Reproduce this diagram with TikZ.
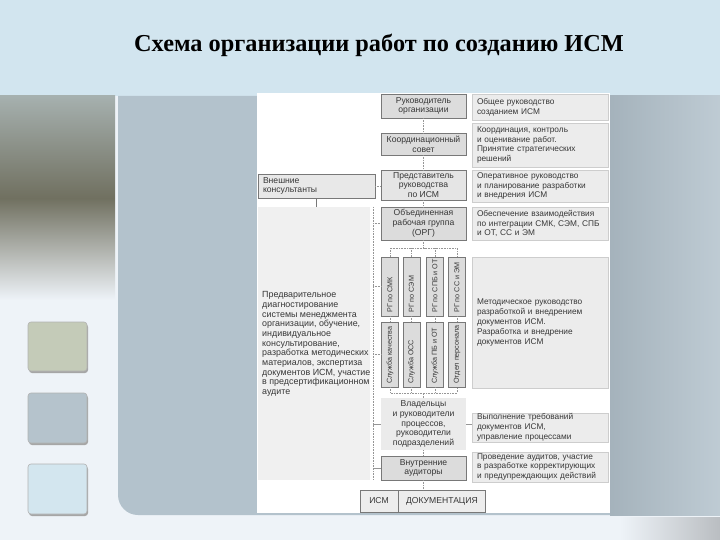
\documentclass[tikz,border=0pt]{standalone}
\usepackage{fontspec}
\setmainfont{Liberation Sans}
\newfontfamily\titlefont{Liberation Serif}
\usetikzlibrary{positioning}

\definecolor{skyband}{RGB}{210,229,239}
\definecolor{paleback}{RGB}{238,243,248}
\definecolor{panelgray}{RGB}{179,194,204}
\definecolor{boxfill}{RGB}{220,220,220}
\definecolor{boxline}{RGB}{120,120,120}
\definecolor{notefill}{RGB}{236,236,236}
\definecolor{noteline}{RGB}{205,205,205}
\definecolor{ink}{RGB}{55,55,55}
\definecolor{connline}{RGB}{150,150,150}
\definecolor{photo}{RGB}{112,112,96}

\newcommand\diag{\fontsize{8.6}{9.8}\selectfont}
\newcommand\diagnote{\fontsize{8.3}{9.8}\selectfont}
\newcommand\diagsmall{\fontsize{7.2}{8}\selectfont}

\tikzset{
  box/.style={draw=boxline, fill=boxfill, minimum width=85pt, inner sep=1pt,
    align=center, font=\diag, text=ink},
  note/.style={fill=notefill, draw=noteline, text width=126pt, inner xsep=5pt,
    inner ysep=1pt, align=left, font=\diagnote, text=ink},
  rgbox/.style={draw=boxline, fill=boxfill, minimum width=17pt, inner sep=0pt},
  rgtext/.style={rotate=90, anchor=west, inner sep=0pt, font=\diagsmall, text=ink},
  conn/.style={draw=connline, densely dotted, line width=0.6pt},
  tile/.style={rounded corners=3pt, draw=black!30, line width=0.6pt}
}

\begin{document}
\begin{tikzpicture}[x=1pt,y=-1pt]
	\useasboundingbox (0,0) rectangle (720,540);

	% Slide background
	\fill[paleback] (0,0) rectangle (720,540);
	\fill[skyband] (0,0) rectangle (720,96);
	\shade[top color=photo!45!skyband, bottom color=paleback, middle color=photo]
		(0,96) rectangle (115,300);
	\fill[panelgray, rounded corners=20pt] (118,96) -- (118,515) -- (720,515) [sharp corners] -- (720,96) -- cycle;
	\shade[left color=panelgray!92!black, right color=panelgray!85!white] (610,96) rectangle (720,515);
	\shade[left color=paleback, right color=black!22!paleback] (620,517) rectangle (720,540);

	% Tiles
	\fill[black!35] (29,324) [rounded corners=3pt] rectangle (88,373);
	\fill[tile, fill={rgb,255:red,196;green,203;blue,184}] (28,322) rectangle (87,371);
	\fill[black!35] (29,395) [rounded corners=3pt] rectangle (88,445);
	\fill[tile, fill={rgb,255:red,181;green,195;blue,204}] (28,393) rectangle (87,443);
	\fill[black!35] (29,466) [rounded corners=3pt] rectangle (88,516);
	\fill[tile, fill={rgb,255:red,211;green,230;blue,239}] (28,464) rectangle (87,514);

	% Title
	\node[anchor=base, inner sep=0pt] (title) at (379,52) {\titlefont\bfseries\fontsize{24.3}{28}\selectfont Схема организации работ по созданию ИСМ};

	% Diagram sheet
	\fill[white] (257,93) rectangle (610,513);

	% Left side: consultants
	\node[draw=boxline, fill=black!9, minimum width=117pt, minimum height=22pt, inner xsep=5pt,
		text width=107pt, align=left, font=\diag, text=ink] (cons) at (316.5,186) {Внешние\\консультанты};
	\node[fill=black!6, minimum width=112pt, minimum height=273pt, inner sep=0pt] (work) at (314,343.5) {};
	\node[anchor=west, inner sep=0pt, align=left, font=\fontsize{8.9}{9.7}\selectfont, text=ink] (worktext) at (262,344)
		{Предварительное\\диагностирование\\системы менеджмента\\организации, обучение,\\индивидуальное\\консультирование,\\разработка методических\\материалов, экспертиза\\документов ИСМ, участие\\в предсертификационном\\аудите};
	\draw[boxline, line width=0.8pt] (cons.south) -- (cons.south |- work.north);
	\coordinate (lvtop) at (373,207);
	\coordinate (lvbot) at (373,480);
	\draw[conn] (lvtop) -- (lvbot);

	% Main column
	\node[box, minimum height=24pt] (ruk) at (423.5,106) {Руководитель\\организации};
	\node[box, minimum height=22pt] (koord) at (423.5,144) {Координационный\\совет};
	\node[box, fill=black!10, minimum height=30pt] (pred) at (423.5,185) {Представитель\\руководства\\по ИСМ};
	\node[box, minimum height=33pt] (org) at (423.5,223.5) {Объединенная\\рабочая группа\\(ОРГ)};
	\node[box, draw=none, fill=black!8, minimum height=52pt] (vlad) at (423.5,424) {Владельцы\\и руководители\\процессов,\\руководители\\подразделений};
	\node[box, minimum height=24pt] (aud) at (423.5,468) {Внутренние\\аудиторы};
	\node[box, fill=black!7, minimum width=38pt, minimum height=22pt] (ism) at (379,501) {ИСМ};
	\node[box, fill=black!7, minimum width=87pt, minimum height=22pt, right=0pt of ism] (doc) {ДОКУМЕНТАЦИЯ};

	% Working groups and services
	\foreach \n/\x/\rg/\sl in {1/390/РГ по СМК/Служба качества, 2/411.5/РГ по СЭМ/Служба ОСС,
		3/435/РГ по СПБ и ОТ/Служба ПБ и ОТ, 4/457/РГ по СС и ЭМ/Отдел персонала}{
		\node[rgbox, minimum height=59pt] (rg\n) at (\x,286.5) {};
		\node[rgtext] at (\x,313) {\rg};
		\node[rgbox, minimum height=65pt] (sl\n) at (\x,354.5) {};
		\node[rgtext] at (\x,384) {\sl};
	}

	% Notes on the right
	\node[note, minimum height=26pt] (n1) at (540,107) {Общее руководство\\созданием ИСМ};
	\node[note, minimum height=44pt] (n2) at (540,145) {Координация, контроль\\и оценивание работ.\\Принятие стратегических\\решений};
	\node[note, minimum height=32pt] (n3) at (540,186) {Оперативное руководство\\и планирование разработки\\и внедрения ИСМ};
	\node[note, minimum height=33pt] (n4) at (540,223.5) {Обеспечение взаимодействия\\по интеграции СМК, СЭМ, СПБ\\и ОТ, СС и ЭМ};
	\node[note, minimum height=131pt] (n5) at (540,322.5) {Методическое руководство\\разработкой и внедрением\\документов ИСМ.\\Разработка и внедрение\\документов ИСМ};
	\node[note, minimum height=29pt] (n6) at (540,427.5) {Выполнение требований\\документов ИСМ,\\управление процессами};
	\node[note, minimum height=30pt] (n7) at (540,467) {Проведение аудитов, участие\\в разработке корректирующих\\и предупреждающих действий};

	% Connectors along the column
	\draw[conn] (ruk) -- (koord);
	\draw[conn] (koord) -- (pred);
	\draw[conn] (pred) -- (org);
	\draw[conn] (vlad) -- (aud);
	\draw[conn] (aud) -- (aud.south |- ism.north);
	\draw[conn] (cons.east) -- (pred.west |- cons.east);
	\draw[conn] (org.south) -- ++(0,8) coordinate (topbar);
	\draw[conn] (rg1.north) |- (topbar) -| (rg4.north);
	\draw[conn] (rg2.north) -- (rg2.north |- topbar);
	\draw[conn] (rg3.north) -- (rg3.north |- topbar);
	\draw[conn] (vlad.north) -- ++(0,-5) coordinate (botbar);
	\draw[conn] (sl1.south) |- (botbar) -| (sl4.south);
	\draw[conn] (sl2.south) -- (sl2.south |- botbar);
	\draw[conn] (sl3.south) -- (sl3.south |- botbar);
	\foreach \n in {1,...,4}{
		\draw[conn] (rg\n) -- (sl\n);
	}

	% Ties from the left line
	\draw[conn] (org.west -| lvtop) -- (org.west);
	\draw[conn] (rg1.west -| lvtop) -- (rg1.west);
	\draw[conn] (sl1.west -| lvtop) -- (sl1.west);
	\draw[connline, line width=0.6pt] (vlad.west -| lvtop) -- (vlad.west);
	\draw[connline, line width=0.6pt] (aud.west -| lvtop) -- (aud.west);
	\draw[connline, line width=0.6pt] (vlad.east) -- (vlad.east -| n6.west);

\end{tikzpicture}
\end{document}
